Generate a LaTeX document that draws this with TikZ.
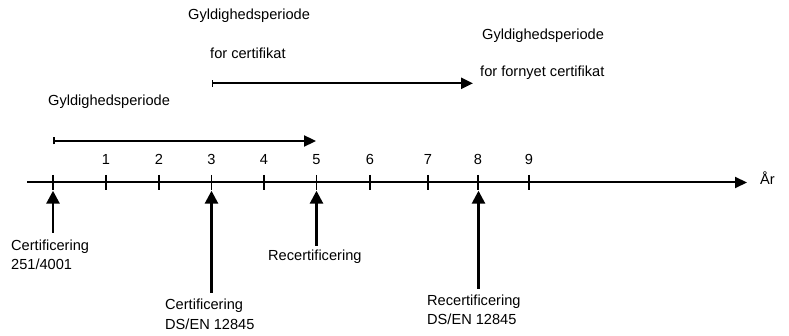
\documentclass[tikz,border=0pt]{standalone}
\usepackage{fontspec}
\setmainfont{Liberation Sans}
\usetikzlibrary{arrows.meta}
\begin{document}
\begin{tikzpicture}[x=1pt,y=-1pt,
  lbl/.style={inner sep=0pt, font=\fontsize{14.6}{19.5}\selectfont},
  ticklbl/.style={lbl, anchor=base},
  multilbl/.style={lbl, anchor=north west, align=left},
  axisline/.style={line width=2pt, -{Triangle[length=12pt,width=11pt]}},
  tickmark/.style={line width=1.3pt},
  period/.style={line width=2.3pt, {Bar[width=7pt,line width=1.6pt]}-{Triangle[length=12pt,width=11pt]}},
  event/.style={line width=2.7pt, -{Triangle[length=13pt,width=13pt]}}]
\useasboundingbox (0,0) rectangle (789,336);

% time axis
\coordinate (axstart) at (27,182.5);
\coordinate (axend) at (747,182.5);
\draw[axisline] (axstart) -- (axend);
\node[lbl, anchor=base west] (aar) at (760,184.5) {År};

% ticks and labels
\foreach \i/\x in {0/53,1/106,2/159,3/211.5,4/264,5/316.5,6/370,7/428,8/478,9/529}{
  \coordinate (ttop\i) at (\x,175);
  \coordinate (tbot\i) at (\x,190);
  \draw[tickmark] (ttop\i) -- (tbot\i);
}
\foreach \i/\x in {1/106,2/159,3/211.5,4/264,5/316.5,6/370,7/428,8/478,9/529}{
  \node[ticklbl] (n\i) at (\x,164.5) {\i};
}

% validity periods
\coordinate (p1s) at (53,141);
\coordinate (p1e) at (316,141);
\draw[period] (p1s) -- (p1e);
\node[lbl, anchor=base west] (g1) at (48,106) {Gyldighedsperiode};

\coordinate (p2s) at (211.5,83.3);
\coordinate (p2e) at (473,83.3);
\draw[period] (p2s) -- (p2e);
\node[lbl, anchor=base west] (g2) at (188,20) {Gyldighedsperiode};
\node[lbl, anchor=base west] (f2) at (210,59) {for certifikat};
\node[lbl, anchor=base west] (g3) at (482,39.5) {Gyldighedsperiode};
\node[lbl, anchor=base west] (f3) at (480,77) {for fornyet certifikat};

% events
\coordinate (e0s) at (53,233);   \coordinate (e0e) at (53,190.7);
\coordinate (e3s) at (211.5,293); \coordinate (e3e) at (211.5,190.7);
\coordinate (e5s) at (316.5,246); \coordinate (e5e) at (316.5,190.7);
\coordinate (e8s) at (478.5,289); \coordinate (e8e) at (478.5,190.7);
\draw[event] (e0s) -- (e0e);
\draw[event] (e3s) -- (e3e);
\draw[event] (e5s) -- (e5e);
\draw[event] (e8s) -- (e8e);

\node[multilbl] (c1) at (11,239.3) {Certificering\\251/4001};
\node[multilbl] (c2) at (165,299) {Certificering\\DS/EN 12845};
\node[multilbl] (r1) at (268,250) {Recertificering};
\node[multilbl] (r2) at (427,294.3) {Recertificering\\DS/EN 12845};
\end{tikzpicture}
\end{document}
